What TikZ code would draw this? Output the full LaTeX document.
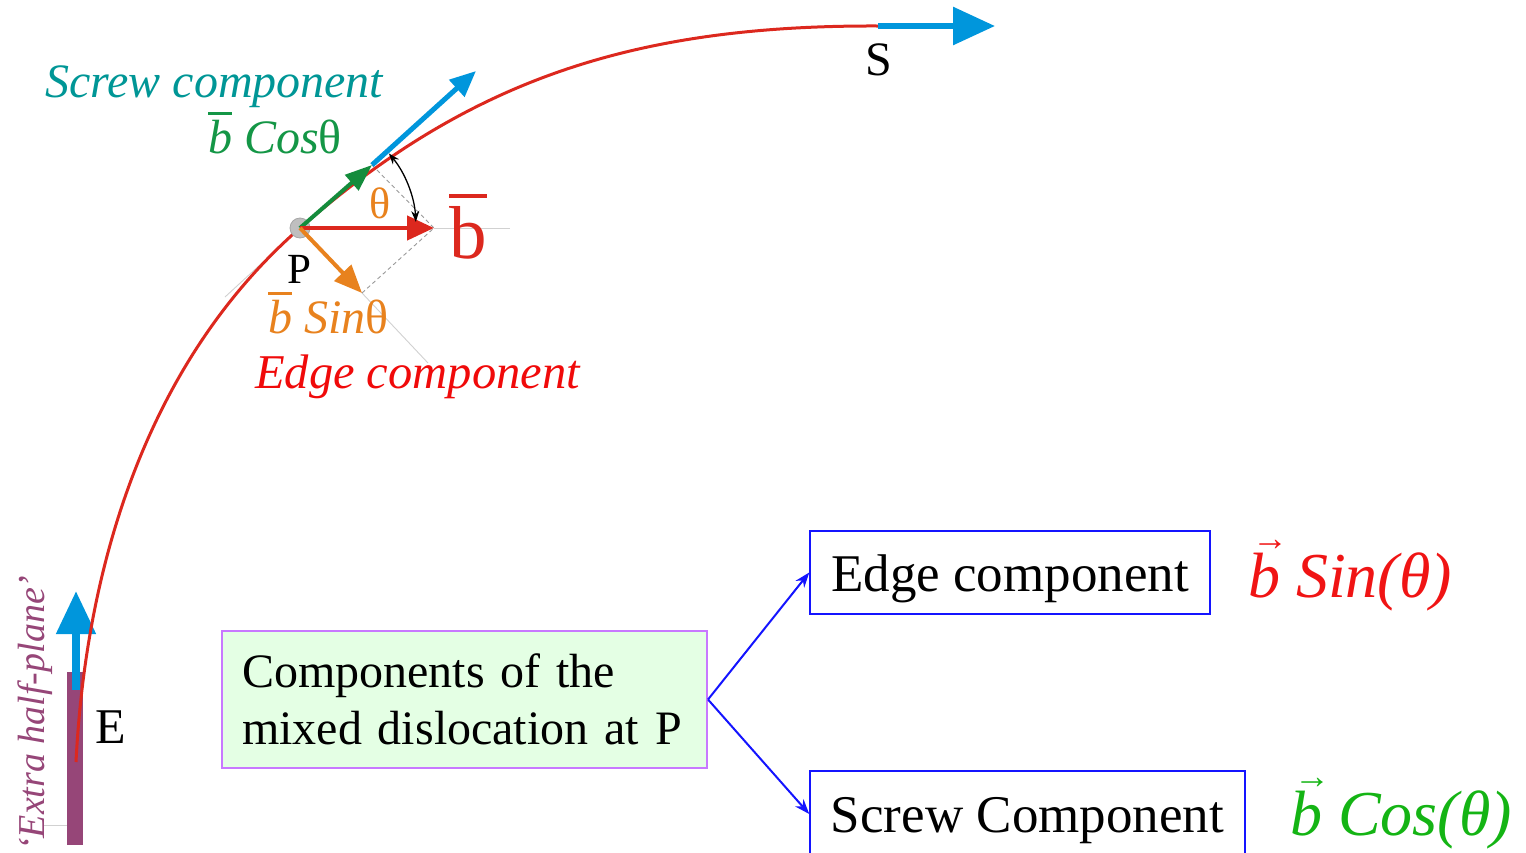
\documentclass[tikz,border=0pt]{standalone}
\usepackage{fontspec}
\setmainfont{Liberation Serif}
\usetikzlibrary{arrows.meta}
\definecolor{curvered}{RGB}{220,40,30}
\definecolor{arrblue}{RGB}{0,150,220}
\definecolor{arrgreen}{RGB}{20,140,60}
\definecolor{txtgreen}{RGB}{20,150,70}
\definecolor{arrorange}{RGB}{232,130,30}
\definecolor{teal2}{RGB}{0,150,150}
\definecolor{edgered}{RGB}{240,10,10}
\definecolor{plum}{RGB}{150,70,120}
\definecolor{boxfill}{RGB}{228,255,228}
\definecolor{boxline}{RGB}{200,120,255}
\definecolor{boxblue}{RGB}{20,20,255}
\definecolor{mathred}{RGB}{240,20,20}
\definecolor{mathgreen}{RGB}{20,180,20}
\newcommand\obar[1]{\leavevmode\rlap{\rule[0.8em]{0.5em}{0.06em}}#1}
\newcommand\vecb[1]{\leavevmode\rlap{\hspace{0.06em}\raisebox{0.72em}{\fontsize{36}{36}\selectfont\upshape →}}#1}
\tikzset{
  fsz/.style={font=\fontsize{#1}{#1}\selectfont},
  lbl/.style={anchor=base west, inner sep=0pt},
  bluearr/.style={arrblue, line width=#1},
  thinline/.style={black!18, line width=0.9pt},
  dashln/.style={black!40, line width=0.9pt, dash pattern=on 4pt off 3pt},
  compbox/.style={draw=boxline, fill=boxfill, line width=2pt, minimum width=485, minimum height=137,
    text width=445pt, align=left, inner xsep=20pt, font=\fontsize{48}{57}\selectfont},
  resbox/.style={draw=boxblue, line width=1.5pt, inner sep=0pt, font=\fontsize{53}{60}\selectfont,
    text height=47.7pt, text depth=10.7pt},
  conn/.style={boxblue, line width=2pt, -{Stealth[length=15pt,width=11pt]}},
}
\begin{document}
\begin{tikzpicture}[x=1pt,y=-1pt]
\useasboundingbox (0,0) rectangle (1526,852);

% key points
\coordinate (Ept) at (76,762);
\coordinate (P) at (300,228);
\coordinate (Spt) at (878,26);
\coordinate (Send) at (995,26);
\coordinate (T) at (372,165);
\coordinate (Tend) at (476,71);
\coordinate (B) at (434,228);
\coordinate (Bext) at (510,228);
\coordinate (O) at (362,293);
\coordinate (Oext) at (428,363);
\coordinate (Tback) at (225,297);
\coordinate (Ebot) at (76,690);
\coordinate (Etop) at (76,591);
\coordinate (th1) at ([shift={(-40:116)}]P);
\coordinate (L1) at (43,825);
\coordinate (L2) at (75,825);

% boxes and connectors
\node[compbox] (comp) at (464.5,699.5) {Components of the\\mixed dislocation at P};
\node[resbox, minimum width=400, minimum height=83] (edge) at (1010,572.5) {Edge component};
\node[resbox, minimum width=435, minimum height=86] (screw) at (1027.5,814) {Screw Component};
\draw[conn] (comp.east) -- (edge.west);
\draw[conn] (comp.east) -- (screw.west);

% construction lines
\draw[thinline] (B) -- (Bext);
\draw[thinline] (Tback) -- (P);
\draw[thinline] (O) -- (Oext);
\draw[thinline] (L1) -- (L2);
\draw[dashln] (T) -- (B);
\draw[dashln] (O) -- (B);

% extra half-plane
\fill[plum] (67,672) rectangle (83,845);
\draw[bluearr=8pt, -{Triangle[length=43pt,width=38pt]}] (Ebot) -- (Etop);

% dislocation line
\draw[curvered, line width=3pt] (Ept) .. controls (86,562) and (149,360) .. (P)
  .. controls (466,83) and (628,25) .. (Spt);

% S arrow and tangent arrow
\draw[bluearr=6pt, -{Triangle[length=42pt,width=37pt]}] (Spt) -- (Send);
\draw[bluearr=5pt, -{Triangle[length=26pt,width=22pt]}] (T) -- (Tend);

% point P
\fill[black!25] (P) circle (10pt);
\draw[black!35, line width=0.8pt] (P) circle (10pt);

% vector arrows
\draw[arrgreen, line width=4pt, -{Triangle[length=27pt,width=20pt]}] (P) -- (T);
\draw[curvered, line width=4.5pt, -{Triangle[length=27pt,width=24pt]}] (P) -- (B);
\draw[arrorange, line width=4pt, -{Triangle[length=28pt,width=23pt]}] (P) -- (O);

% theta arc
\draw[black, line width=1.3pt, {Stealth[length=11pt,width=8pt]}-{Stealth[length=11pt,width=8pt]}]
  (th1) arc[start angle=-40, end angle=-3, radius=116];

% labels
\node[lbl, fsz=48, teal2] (screwlbl) at (45,97) {\itshape Screw component};
\node[lbl, fsz=48, txtgreen] (coslbl) at (208,153) {\obar{\itshape b} \textit{Cos}\upshape θ};
\node[lbl, fsz=48, arrorange] (sinlbl) at (268,333) {\obar{\itshape b} \textit{Sin}\upshape θ};
\node[lbl, fsz=48.5, edgered] (edgelbl) at (255,388) {\itshape Edge component};
\node[lbl, fsz=44, arrorange] (thlbl) at (369,218) {θ};
\node[lbl, fsz=75, curvered] (blbl) at (449,258) {\obar{b}};
\node[lbl, fsz=43] (Plbl) at (287,283) {P};
\node[lbl, fsz=48] (Slbl) at (865,75) {S};
\node[lbl, fsz=50] (Elbl) at (95,743) {E};
\node[lbl, fsz=38, plum, rotate=90] (halflbl) at (44,851) {\itshape ‘Extra half-plane’};
\node[lbl, fsz=64, mathred] (sinmath) at (1248,597) {\itshape\vecb{b} Sin(θ)};
\node[lbl, fsz=64, mathgreen] (cosmath) at (1290,835) {\itshape\vecb{b} Cos(θ)};
\end{tikzpicture}
\end{document}
